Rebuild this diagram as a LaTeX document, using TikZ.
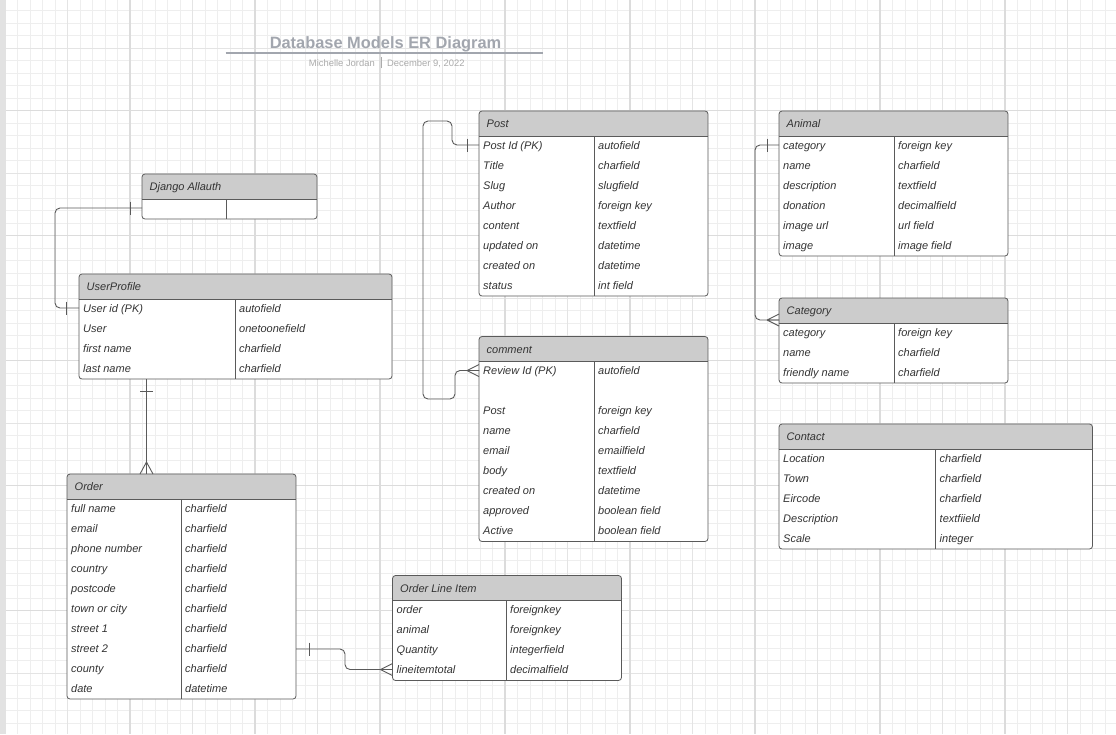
\documentclass[tikz,border=0pt]{standalone}
\usepackage{fontspec}
\setmainfont{Liberation Sans}
\usetikzlibrary{calc}
\definecolor{gminor}{HTML}{EEEEEE}
\definecolor{gmid}{HTML}{E4E4E4}
\definecolor{gmajor}{HTML}{DCDCDC}
\definecolor{stripgray}{HTML}{E2E2E2}
\definecolor{hdrfill}{HTML}{CCCCCC}
\definecolor{edge}{HTML}{5A5A5A}
\definecolor{txt}{HTML}{333333}
\definecolor{titlegray}{HTML}{A2A6AE}
\definecolor{subgray}{HTML}{ABABAB}
\tikzset{
  ebody/.style={fill=white, inner sep=0pt, outer sep=0pt, rounded corners=3pt},
  eborder/.style={draw=edge, line width=0.8pt, rounded corners=3pt},
  eline/.style={draw=edge, line width=0.8pt},
  rowtext/.style={inner sep=0pt, anchor=base west, text=txt, font=\itshape\fontsize{11}{13}\selectfont},
  conn/.style={draw=edge, line width=0.9pt, rounded corners=5pt},
  tick/.style={draw=edge, line width=0.9pt},
}
% #1 name, #2 left x, #3 top y, #4 width, #5 divider x, #6 rows, #7 title, #8 rows list
\newcommand\erentity[8]{%
  \pgfmathsetmacro\bh{25+20*#6}%
  \node[ebody, minimum width=#4pt, minimum height=\bh pt, anchor=north west] (#1) at (#2,#3) {};
  \begin{scope}
    \clip[rounded corners=3pt] (#1.north west) rectangle (#1.south east);
    \fill[hdrfill] (#1.north west) rectangle ([yshift=-25pt]#1.north east);
  \end{scope}
  \draw[eline] ([yshift=-25pt]#1.north west) -- ([yshift=-25pt]#1.north east);
  \draw[eline] (#5,#3+25) -- (#5,#3+\bh);
  \draw[eborder] (#1.north west) rectangle (#1.south east);
  \node[rowtext] (#1-t) at (#2+7.5,#3+16.5) {#7};
  \foreach \a/\b [count=\i] in {#8} {
    \coordinate (#1-w\i) at (#2,#3+25+20*\i-11);
    \node[rowtext] (#1-l\i) at (#2+4,#3+25+20*\i-7) {\a};
    \node[rowtext] (#1-r\i) at (#5+4,#3+25+20*\i-7) {\b};
  }
}
\newcommand\vbar[2]{\draw[tick] ([xshift=#2]#1) ++(0,-6.5) -- ++(0,13);}
\newcommand\crowW[1]{\draw[tick] ([xshift=-12pt]#1) -- ++(12,-6) ([xshift=-12pt]#1) -- ++(12,6) ([xshift=-12pt]#1) -- (#1);}
\begin{document}
\begin{tikzpicture}[x=1pt,y=-1pt]
\useasboundingbox (0,0) rectangle (1116,734);
\fill[white] (0,0) rectangle (1116,734);
% grid
\begin{scope}
\clip (0,0) rectangle (1116,734);
\foreach \x in {5,17.5,...,1116} \draw[gminor, line width=1pt] (\x,0) -- (\x,734);
\foreach \y in {-1.8,10.7,...,740} \draw[gminor, line width=1pt] (0,\y) -- (1116,\y);
\foreach \x in {67.5,192.5,...,1116} \draw[gmid, line width=1pt] (\x,0) -- (\x,734);
\foreach \y in {48.2,173.2,...,740} \draw[gmid, line width=1pt] (0,\y) -- (1116,\y);
\foreach \x in {5,130,...,1116} \draw[gmajor, line width=1.2pt] (\x,0) -- (\x,734);
\foreach \y in {-14.3,110.7,...,740} \draw[gmajor, line width=1.2pt] (0,\y) -- (1116,\y);
\end{scope}
\fill[stripgray] (0,0) rectangle (6,734);
% title
\node[inner sep=0pt, anchor=base, text=titlegray, font=\bfseries\fontsize{16.4}{19}\selectfont] (title) at (385.5,48.3) {Database Models ER Diagram};
\draw[titlegray, line width=1.8pt] ([xshift=-44pt,yshift=-5pt]title.base west) coordinate (ul1) -- ([xshift=42pt,yshift=-5pt]title.base east) coordinate (ul2);
\node[inner sep=0pt, anchor=base east, text=subgray, font=\fontsize{9.4}{11}\selectfont] (author) at (375,66.5) {Michelle Jordan};
\node[inner sep=0pt, anchor=base west, text=subgray, font=\fontsize{9.4}{11}\selectfont] (date) at (387,66.5) {December 9, 2022};
\draw[subgray, line width=0.7pt] ([xshift=6pt,yshift=-1.5pt]author.base east) -- ++(0,-11);
% entities
\erentity{allauth}{142}{174}{175}{226.5}{1}{Django Allauth}{{}/{}}
\erentity{up}{79}{274}{313}{235}{4}{UserProfile}{{User id (PK)}/autofield, User/onetoonefield, first name/charfield, last name/charfield}
\erentity{order}{67}{474}{229}{181}{10}{Order}{full name/charfield, email/charfield, phone number/charfield, country/charfield, postcode/charfield, town or city/charfield, street 1/charfield, street 2/charfield, county/charfield, date/datetime}
\erentity{post}{479}{111}{229}{594}{8}{Post}{{Post Id (PK)}/autofield, Title/charfield, Slug/slugfield, Author/foreign key, content/textfield, updated on/datetime, created on/datetime, status/int field}
\erentity{comment}{479}{336.5}{229}{594}{9}{comment}{{Review Id (PK)}/autofield, {}/{}, Post/foreign key, name/charfield, email/emailfield, body/textfield, created on/datetime, approved/boolean field, Active/boolean field}
\erentity{animal}{779}{111}{229}{894}{6}{Animal}{category/foreign key, name/charfield, description/textfield, donation/decimalfield, image url/url field, image/image field}
\erentity{category}{779}{298}{229}{894}{3}{Category}{category/foreign key, name/charfield, friendly name/charfield}
\erentity{contact}{779}{424}{313.5}{935.5}{5}{Contact}{Location/charfield, Town/charfield, Eircode/charfield, Description/textfiield, Scale/integer}
\erentity{oli}{392.5}{575.5}{229}{506}{4}{Order Line Item}{order/foreignkey, animal/foreignkey, Quantity/integerfield, lineitemtotal/decimalfield}
% connectors
% Django Allauth -- UserProfile
\draw[conn] (allauth-w1) -- ++(-87,0) |- (up-w1);
\vbar{allauth-w1}{-12pt}
\vbar{up-w1}{-12.5pt}
% UserProfile -- Order
\coordinate (upB) at ([xshift=67.5pt]up.south west);
\coordinate (orderB) at ([xshift=79.5pt]order.north west);
\draw[conn] (upB) -- (orderB);
\draw[tick] ([yshift=-12.5pt]upB) ++(-6.5,0) -- ++(13,0);
\draw[tick] ([yshift=12pt]orderB) -- ++(-6.5,12) ([yshift=12pt]orderB) -- ++(6.5,12);
% Post -- comment
\draw[conn] (post-w1) -- ++(-27,0) -- ++(0,-24) -- ++(-29,0) -- ++(0,278) -- ++(32,0) |- (comment-w1);
\vbar{post-w1}{-12pt}
\crowW{comment-w1}
% Animal -- Category
\coordinate (catcf) at ([yshift=-22pt]category.north west);
\draw[conn] (animal-w1) -- ++(-24,0) |- (catcf);
\vbar{animal-w1}{-12pt}
\crowW{catcf}
% Order -- Order Line Item
\coordinate (ordE) at ([yshift=-175pt]order.north east);
\draw[conn] (ordE) -- ++(49,0) |- (oli-w4);
\vbar{ordE}{13pt}
\crowW{oli-w4}
\end{tikzpicture}
\end{document}
